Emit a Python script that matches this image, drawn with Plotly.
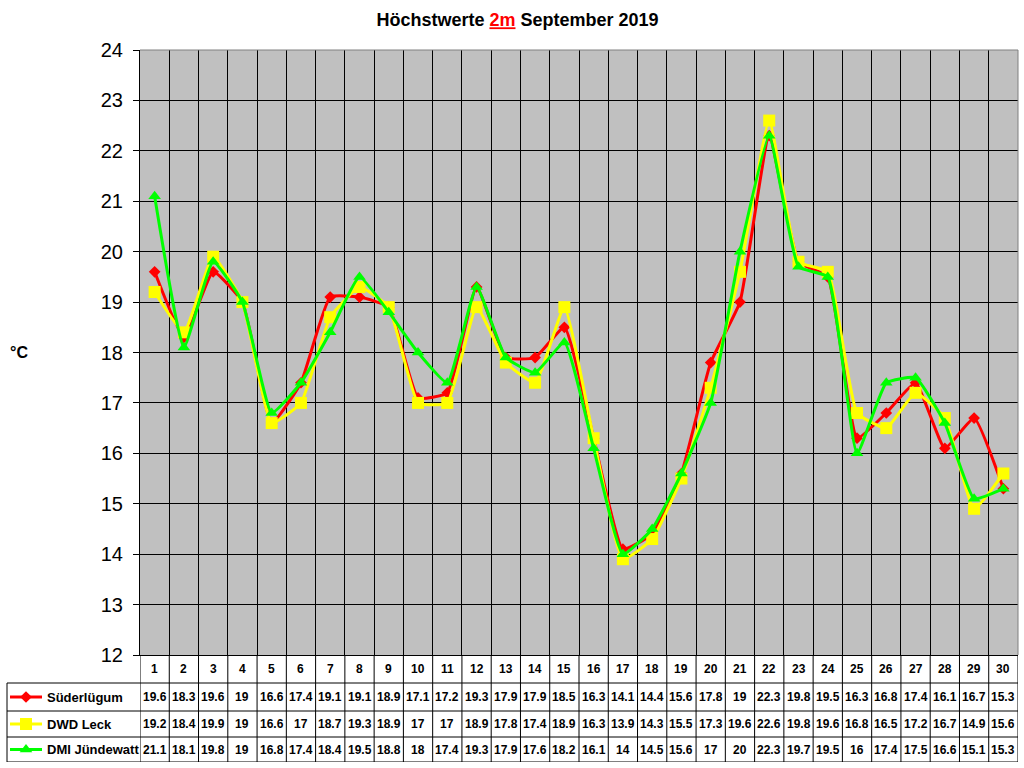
import plotly.graph_objects as go

days = list(range(1, 31))
series_names = ["Süderlügum", "DWD Leck", "DMI Jündewatt"]
suederluegum = [19.6, 18.3, 19.6, 19, 16.6, 17.4, 19.1, 19.1, 18.9, 17.1, 17.2, 19.3, 17.9, 17.9, 18.5,
                16.3, 14.1, 14.4, 15.6, 17.8, 19, 22.3, 19.8, 19.5, 16.3, 16.8, 17.4, 16.1, 16.7, 15.3]
dwd_leck = [19.2, 18.4, 19.9, 19, 16.6, 17, 18.7, 19.3, 18.9, 17, 17, 18.9, 17.8, 17.4, 18.9,
            16.3, 13.9, 14.3, 15.5, 17.3, 19.6, 22.6, 19.8, 19.6, 16.8, 16.5, 17.2, 16.7, 14.9, 15.6]
dmi_juendewatt = [21.1, 18.1, 19.8, 19, 16.8, 17.4, 18.4, 19.5, 18.8, 18, 17.4, 19.3, 17.9, 17.6, 18.2,
                  16.1, 14, 14.5, 15.6, 17, 20, 22.3, 19.7, 19.5, 16, 17.4, 17.5, 16.6, 15.1, 15.3]
y_ticks = list(range(12, 25))

series_values = [suederluegum, dwd_leck, dmi_juendewatt]
colors = ["#FF0000", "#FFFF00", "#00FF00"]
symbols = ["diamond", "square", "triangle-up"]
msizes = [9, 12, 11]

FONT = "Arial, Liberation Sans, sans-serif"

# pixel layout
W, H = 1024, 768
L, R, T, B = 7, 1018, 50, 762
plot_left, plot_bottom = 140, 655
row_edges = [655, 683, 711, 737, 762]

def fmt(v):
    return str(int(v)) if float(v).is_integer() else f"{v:g}"

fig = go.Figure()
for name, vals, c, s, ms in zip(series_names, series_values, colors, symbols, msizes):
    fig.add_trace(go.Scatter(
        x=days, y=vals, name=name, mode="lines+markers",
        line=dict(color=c, width=3, shape="spline", smoothing=0.4),
        marker=dict(symbol=s, size=ms, color=c, line=dict(width=0)),
        showlegend=False, xaxis="x", yaxis="y"))

# legend icons in the table's first column
for i, (c, s, ms) in enumerate(zip(colors, symbols, msizes)):
    yc = (row_edges[i + 1] + row_edges[i + 2]) / 2
    fig.add_trace(go.Scatter(
        x=[10, 42], y=[yc, yc], mode="lines", line=dict(color=c, width=3),
        showlegend=False, hoverinfo="skip", xaxis="x2", yaxis="y2"))
    fig.add_trace(go.Scatter(
        x=[26], y=[yc], mode="markers", marker=dict(symbol=s, size=ms, color=c),
        showlegend=False, hoverinfo="skip", xaxis="x2", yaxis="y2"))

annotations = []
# header row
for d in days:
    annotations.append(dict(x=d, y=(row_edges[0] + row_edges[1]) / 2, xref="x", yref="y2",
                            text=f"<b>{d}</b>", showarrow=False,
                            font=dict(family=FONT, size=12, color="black")))
# data rows
for i, (name, vals) in enumerate(zip(series_names, series_values)):
    yc = (row_edges[i + 1] + row_edges[i + 2]) / 2
    annotations.append(dict(x=45, y=yc, xref="x2", yref="y2", text=f"<b>{name}</b>",
                            showarrow=False, xanchor="left",
                            font=dict(family=FONT, size=13, color="black")))
    for d, v in zip(days, vals):
        annotations.append(dict(x=d, y=yc, xref="x", yref="y2", text=f"<b>{fmt(v)}</b>",
                                showarrow=False,
                                font=dict(family=FONT, size=12, color="black")))
# y axis title
annotations.append(dict(x=18.5, y=0.5, xref="x2", yref="y domain", text="<b>°C</b>",
                        showarrow=False, font=dict(family=FONT, size=16, color="black")))

xdom0 = (plot_left - L) / (R - L)
ydom0 = (B - plot_bottom) / (B - T)

shapes = []
# gray plot background (below grid)
shapes.append(dict(type="rect", xref="x domain", yref="y domain", x0=0, x1=1, y0=0, y1=1,
                   fillcolor="#C0C0C0", line=dict(width=0), layer="below"))
# vertical table lines
for d in range(0, 31):
    shapes.append(dict(type="line", xref="x", yref="y2", x0=d + 0.5, x1=d + 0.5,
                       y0=row_edges[0], y1=row_edges[-1], line=dict(color="black", width=1)))
shapes.append(dict(type="line", xref="paper", yref="y2", x0=0, x1=0,
                   y0=row_edges[1], y1=row_edges[-1], line=dict(color="black", width=1)))
for ye in row_edges[1:]:
    shapes.append(dict(type="line", xref="paper", yref="y2", x0=0, x1=1,
                       y0=ye, y1=ye, line=dict(color="black", width=1)))
# gray top/right plot border
shapes.append(dict(type="line", xref="paper", yref="y domain", x0=xdom0, x1=1, y0=1, y1=1,
                   line=dict(color="#808080", width=1)))
shapes.append(dict(type="line", xref="paper", yref="y domain", x0=1, x1=1, y0=0, y1=1,
                   line=dict(color="#808080", width=1)))

fig.update_layout(
    width=W, height=H,
    margin=dict(l=L, r=W - R, t=T, b=H - B, autoexpand=False),
    paper_bgcolor="white", plot_bgcolor="white",
    title=dict(text='<b>Höchstwerte <span style="color:#FF0000;text-decoration:underline">2m</span> September 2019</b>',
               x=517.5 / W, xref="container", xanchor="center",
               y=1 - 20 / H, yref="container", yanchor="middle",
               font=dict(family=FONT, size=18, color="black")),
    xaxis=dict(domain=[xdom0, 1], range=[0.5, 30.5], tickmode="linear", tick0=0.5, dtick=1,
               showgrid=True, gridcolor="black", gridwidth=1, showticklabels=False, ticks="",
               showline=True, linecolor="black", linewidth=1, zeroline=False, anchor="y"),
    yaxis=dict(domain=[ydom0, 1], range=[12, 24], tickvals=y_ticks, showgrid=True,
               gridcolor="black", gridwidth=1, ticks="outside", ticklen=6, tickcolor="black",
               showline=True, linecolor="black", linewidth=1, zeroline=False,
               tickprefix="<b>", ticksuffix="</b>",
               tickfont=dict(family=FONT, size=20, color="black"), anchor="x",
               ticklabelstandoff=6),
    xaxis2=dict(domain=[0, xdom0], range=[L, plot_left], visible=False, anchor="y2"),
    yaxis2=dict(domain=[0, ydom0], range=[B, plot_bottom], visible=False, anchor="x2"),
    annotations=annotations, shapes=shapes,
    font=dict(family=FONT),
)

fig.write_html("out.html", config={"displayModeBar": False},
               post_script="document.body.style.margin='0';document.body.style.overflow='hidden';")
